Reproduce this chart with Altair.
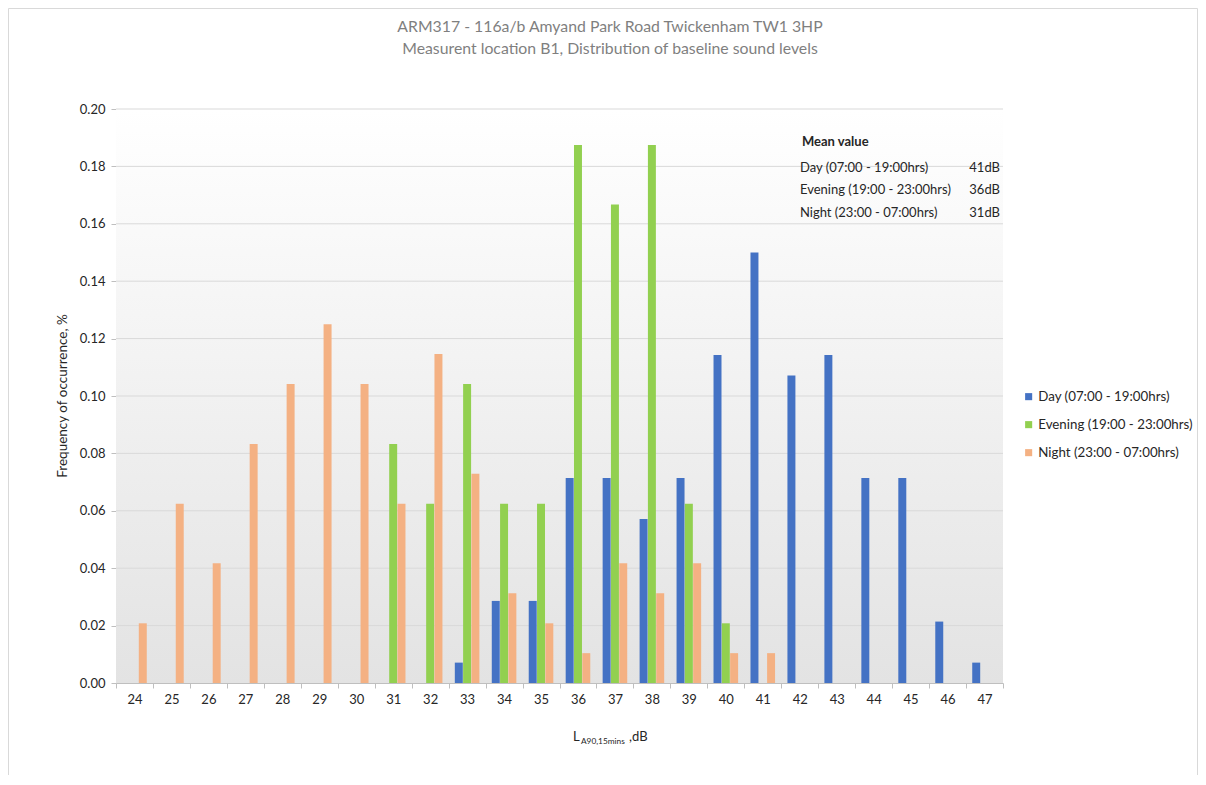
import altair as alt
import pandas as pd

levels = [24, 25, 26, 27, 28, 29, 30, 31, 32, 33, 34, 35, 36, 37, 38, 39, 40, 41, 42, 43, 44, 45, 46, 47]
series_names = ["Day (07:00 - 19:00hrs)", "Evening (19:00 - 23:00hrs)", "Night (23:00 - 07:00hrs)"]
series_colors = ["#4472C4", "#92D050", "#F4B183"]

day = [0, 0, 0, 0, 0, 0, 0, 0, 0, 0.0071, 0.0286, 0.0286, 0.0714, 0.0714, 0.0571, 0.0714,
       0.1143, 0.15, 0.1071, 0.1143, 0.0714, 0.0714, 0.0214, 0.0071]
evening = [0, 0, 0, 0, 0, 0, 0, 0.0833, 0.0625, 0.1042, 0.0625, 0.0625, 0.1875, 0.1667, 0.1875,
           0.0625, 0.0208, 0, 0, 0, 0, 0, 0, 0]
night = [0.0208, 0.0625, 0.0417, 0.0833, 0.1042, 0.125, 0.1042, 0.0625, 0.1146, 0.0729, 0.0313,
         0.0208, 0.0104, 0.0417, 0.0313, 0.0417, 0.0104, 0.0104, 0, 0, 0, 0, 0, 0]
y_ticks = [0.0, 0.02, 0.04, 0.06, 0.08, 0.10, 0.12, 0.14, 0.16, 0.18, 0.20]

title_lines = ["ARM317 - 116a/b Amyand Park Road Twickenham TW1 3HP",
               "Measurent location B1, Distribution of baseline sound levels"]
mean_labels = ["Day (07:00 - 19:00hrs)", "Evening (19:00 - 23:00hrs)", "Night (23:00 - 07:00hrs)"]
mean_values = ["41dB", "36dB", "31dB"]

rows = []
for name, vals in zip(series_names, [day, evening, night]):
    for lv, v in zip(levels, vals):
        if v > 0:
            rows.append({"level": lv, "series": name, "value": v})
df = pd.DataFrame(rows)

W, H = 887, 574
FONT = "Lato"
TXT = "#262626"

y_scale = alt.Scale(domain=[0, 0.2], nice=False)
y_axis = alt.Axis(values=y_ticks, format=".2f", grid=False, domainColor="#bfbfbf",
                  tickColor="#bfbfbf", tickSize=5, labelFontSize=13, labelColor=TXT,
                  labelFont=FONT, labelPadding=6)

bars = alt.Chart(df).mark_bar().encode(
    x=alt.X("level:O", title=None, sort=levels,
            scale=alt.Scale(domain=levels, paddingInner=0, paddingOuter=0),
            axis=alt.Axis(labelAngle=0, tickBand="extent", domainColor="#bfbfbf", tickColor="#bfbfbf",
                          tickSize=5, labelFontSize=13, labelColor=TXT, labelFont=FONT, grid=False,
                          labelPadding=5)),
    xOffset=alt.XOffset("series:N", sort=series_names,
                        scale=alt.Scale(domain=series_names, paddingInner=0.04, paddingOuter=0.745)),
    y=alt.Y("value:Q", title=None, scale=y_scale, axis=y_axis),
    color=alt.Color("series:N", sort=series_names,
                    scale=alt.Scale(domain=series_names, range=series_colors),
                    legend=alt.Legend(title=None, orient="none", legendX=906, legendY=281,
                                      symbolType="square", symbolSize=50, symbolStrokeWidth=0,
                                      labelFontSize=13.3, labelFont=FONT, labelColor=TXT, labelLimit=300,
                                      rowPadding=14, padding=0, labelOffset=3)),
)

grid = alt.Chart(pd.DataFrame({"value": y_ticks[1:]})).mark_rule(color="#d9d9d9", strokeWidth=1).encode(
    y=alt.Y("value:Q", title=None, scale=y_scale, axis=y_axis), x=alt.value(0), x2=alt.value(W))

dummy = pd.DataFrame({"a": [0]})

def text(t, x, y, size=13, color=TXT, align="left", weight="normal", angle=0, baseline="middle"):
    return alt.Chart(dummy).mark_text(text=t, fontSize=size, font=FONT, color=color, align=align,
                                      fontWeight=weight, angle=angle, baseline=baseline).encode(
        x=alt.value(x), y=alt.value(y))

grad = alt.LinearGradient(gradient="linear", x1=0, x2=0, y1=0, y2=1,
                          stops=[alt.GradientStop(color="#ffffff", offset=0),
                                 alt.GradientStop(color="#e3e3e3", offset=1)])

bg = alt.Chart(dummy).mark_rect(fill=grad).encode(
    x=alt.value(0), x2=alt.value(W), y=alt.value(0), y2=alt.value(H))

border = alt.Chart(dummy).mark_rect(fill=None, stroke="#d9d9d9", strokeWidth=1).encode(
    x=alt.value(-107.5), x2=alt.value(W + 194.5), y=alt.value(-100.5), y2=alt.value(H + 150))

layers = [border, bg, grid, bars]
layers.append(text(title_lines[0], 494, -82, size=15.8, color="#7f7f7f", align="center"))
layers.append(text(title_lines[1], 494, -60, size=15.8, color="#7f7f7f", align="center"))
layers.append(text("Frequency  of occurrence, %", -53, 287, size=13.5, angle=270, align="center"))
layers.append(text("L", 457, 632, size=13, baseline="alphabetic"))
layers.append(text("A90,15mins", 465, 635, size=8.3, baseline="alphabetic"))
layers.append(text(",dB", 513, 632, size=13, baseline="alphabetic"))
layers.append(text("Mean value", 686, 33, weight="bold"))
for i, (lab, val) in enumerate(zip(mean_labels, mean_values)):
    yy = [59, 81, 104][i]
    layers.append(text(lab, 684, yy))
    layers.append(text(val, 884, yy, align="right"))

chart = alt.layer(*layers).properties(
    width=W, height=H,
    autosize=alt.AutoSizeParams(type="none"),
    padding={"left": 108, "top": 101, "right": 195, "bottom": 92},
    background="white",
).configure_view(stroke=None)

chart.save("out.html", embed_options={"renderer": "svg", "actions": False})
